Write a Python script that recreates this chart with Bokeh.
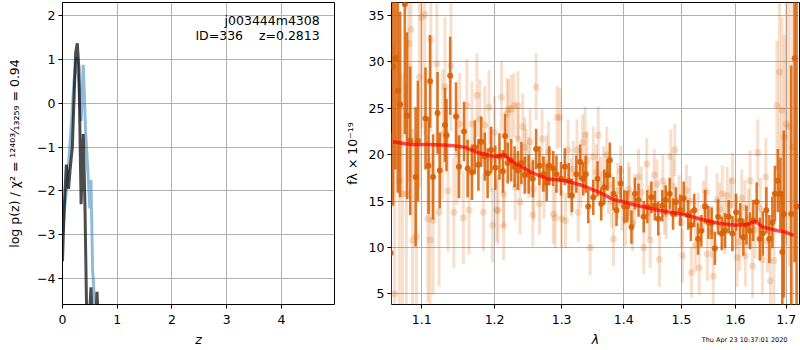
from bokeh.plotting import figure
from bokeh.models import FixedTicker, PrintfTickFormatter, Label, ColumnDataSource, Title
from bokeh.layouts import row
from bokeh.embed import file_html
from bokeh.resources import INLINE

FONT = "DejaVu Sans"
FS = "12.5px"

# ---- left panel: log p(z) curves ----
z_black = [0.0, 0.03, 0.07, 0.11, 0.14, 0.18, 0.24, 0.27, 0.30, 0.34, 0.38, 0.41,
           0.44, 0.47, 0.50, 0.52, 0.54, 0.60, 0.63, 0.65, 0.70]
lnp_black = [-3.6, -2.4, -1.4, -1.95, -1.5, -1.0, 1.15, 1.37, 0.8, -2.3, -0.7, -2.3,
             -4.7, -5.5, -4.7, -4.2, -4.8, -5.5, -4.3, -4.8, -6.0]
z_blue = [0.0, 0.04, 0.09, 0.15, 0.21, 0.26, 0.30, 0.34, 0.38, 0.42, 0.47, 0.50,
          0.52, 0.53, 0.55, 0.58, 0.62]
lnp_blue = [-3.0, -2.4, -1.75, -0.7, 0.5, 1.05, 0.5, -0.4, 0.88, -0.6, -1.7, -2.4,
            -1.75, -2.4, -3.8, -4.4, -5.5]
z_ticks = [0, 1, 2, 3, 4]
lnp_ticks = [-4, -3, -2, -1, 0, 1, 2]

# ---- right panel: spectrum ----
dark_wave = [1.060, 1.063, 1.066, 1.069, 1.072, 1.078, 1.081, 1.085, 1.092, 1.095,
             1.105, 1.109, 1.111, 1.115, 1.121, 1.124, 1.131, 1.133, 1.138, 1.146,
             1.150, 1.157, 1.162, 1.168, 1.172, 1.177, 1.181, 1.186, 1.190, 1.195,
             1.201, 1.207, 1.212, 1.215, 1.219, 1.224, 1.229, 1.234, 1.239, 1.244,
             1.250, 1.256, 1.261, 1.266, 1.272, 1.277, 1.281, 1.287, 1.292, 1.299,
             1.305, 1.311, 1.316, 1.323, 1.329, 1.334, 1.338, 1.342, 1.350, 1.357,
             1.363, 1.368, 1.373, 1.377, 1.383, 1.388, 1.395, 1.401, 1.406, 1.413,
             1.419, 1.425, 1.434, 1.440, 1.447, 1.453, 1.459, 1.466, 1.472, 1.479,
             1.485, 1.490, 1.498, 1.504, 1.512, 1.517, 1.523, 1.530, 1.536, 1.543,
             1.549, 1.555, 1.561, 1.567, 1.574, 1.580, 1.587, 1.594, 1.601, 1.609,
             1.615, 1.621, 1.628, 1.634, 1.641, 1.647, 1.653, 1.660, 1.666, 1.672,
             1.677, 1.683, 1.688, 1.692, 1.695, 1.710, 1.717, 1.721]
dark_flux = [9.4, 29.5, 30.4, 26.9, 25.4, 36.2, 24.2, 21.5, 17.6, 21.5,
             23.9, 18.8, 27.9, 17.6, 24.5, 18.3, 23.2, 22.1, 28.5, 24.1,
             18.7, 22.5, 18.5, 18.1, 20.8, 18.9, 21.4, 19.8, 18.0, 20.5,
             18.6, 19.8, 18.2, 22.0, 19.1, 19.4, 18.7, 18.3, 19.1, 17.8,
             17.9, 17.4, 20.6, 18.8, 17.9, 17.0, 18.8, 18.5, 17.9, 17.4,
             18.7, 17.2, 15.6, 17.9, 19.2, 17.4, 17.9, 14.4, 15.4, 17.4,
             14.7, 16.5, 17.8, 19.4, 15.8, 14.0, 16.9, 14.4, 14.4, 12.2,
             15.8, 15.1, 13.3, 14.4, 15.4, 14.5, 13.1, 14.5, 15.1, 15.8,
             13.6, 14.9, 14.0, 15.3, 13.5, 12.4, 14.0, 10.9, 11.8, 14.4,
             12.7, 12.6, 9.9, 13.3, 11.5, 11.8, 13.3, 11.5, 13.8, 12.9,
             11.1, 12.4, 11.8, 12.9, 14.9, 10.9, 11.5, 14.0, 10.9, 12.7,
             15.8, 17.2, 15.8, 9.5, 13.6, 13.6, 30.4, 14.4]
dark_err = [13, 15, 12, 11, 10, 14, 9, 8, 7.5, 6.5,
            5.5, 5.2, 5.0, 4.6, 4.4, 4.1, 4.0, 3.9, 4.2, 3.7,
            3.4, 3.2, 3.1, 3.0, 2.9, 2.8, 2.7, 2.6, 2.7, 2.5,
            2.4, 2.5, 2.3, 2.4, 2.2, 2.3, 2.2, 2.1, 2.3, 2.0,
            2.1, 2.0, 2.2, 2.1, 1.9, 2.0, 2.1, 1.9, 2.0, 1.8,
            2.0, 1.9, 1.8, 2.0, 1.9, 1.8, 2.0, 1.8, 1.9, 1.9,
            1.8, 1.9, 1.7, 1.9, 1.8, 1.7, 1.9, 1.8, 1.7, 1.8,
            1.7, 1.8, 1.7, 1.8, 1.7, 1.6, 1.8, 1.7, 1.6, 1.7,
            1.7, 1.6, 1.7, 1.8, 1.6, 1.7, 1.8, 1.7, 1.7, 1.8,
            1.8, 1.7, 1.8, 1.9, 1.8, 1.9, 1.8, 1.9, 2.0, 1.9,
            2.0, 2.1, 2.0, 2.2, 2.1, 2.3, 2.4, 2.5, 2.6, 2.8,
            3.0, 3.4, 3.9, 6.5, 9, 16, 22, 25]

light_wave = [1.062, 1.065, 1.071, 1.075, 1.080, 1.083, 1.086, 1.088, 1.093, 1.097,
              1.100, 1.104, 1.108, 1.111, 1.112, 1.115, 1.120, 1.123, 1.128, 1.131,
              1.135, 1.139, 1.143, 1.147, 1.151, 1.156, 1.161, 1.164, 1.168, 1.175,
              1.179, 1.184, 1.186, 1.192, 1.197, 1.200, 1.205, 1.210, 1.213, 1.218,
              1.224, 1.230, 1.234, 1.237, 1.241, 1.246, 1.252, 1.257, 1.261, 1.266,
              1.273, 1.280, 1.287, 1.293, 1.300, 1.310, 1.315, 1.324, 1.330, 1.337,
              1.345, 1.350, 1.358, 1.367, 1.375, 1.383, 1.390, 1.397, 1.403, 1.410,
              1.418, 1.425, 1.434, 1.439, 1.445, 1.452, 1.461, 1.467, 1.473, 1.481,
              1.488, 1.496, 1.502, 1.509, 1.518, 1.525, 1.532, 1.540, 1.547, 1.558,
              1.565, 1.575, 1.584, 1.594, 1.603, 1.612, 1.619, 1.628, 1.633, 1.643,
              1.652, 1.659, 1.668, 1.675, 1.681, 1.686, 1.691, 1.696, 1.700, 1.706,
              1.713,
              1.195, 1.203, 1.213, 1.220, 1.228, 1.234, 1.244, 1.250, 1.256, 1.270,
              1.277, 1.290, 1.297, 1.306, 1.318, 1.326, 1.333, 1.340, 1.355, 1.362,
              1.372, 1.380, 1.395, 1.408, 1.415, 1.430, 1.443, 1.457, 1.470, 1.485,
              1.500, 1.515, 1.530, 1.545, 1.555, 1.570, 1.580, 1.590, 1.600, 1.608,
              1.618, 1.625, 1.638, 1.648, 1.662]
light_flux = [31.3, 5.0, 17.2, 15.8, 15.8, 32.0, 33.5, 10.8, 11.2, 28.4,
              34.8, 35.1, 13.1, 10.8, 32.4, 12.9, 29.8, 13.8, 22.2, 27.3,
              16.1, 29.6, 13.8, 20.1, 23.3, 13.2, 25.3, 14.0, 23.3, 26.4,
              23.8, 13.8, 23.2, 25.1, 12.4, 22.4, 14.0, 26.2, 12.3, 24.4,
              24.9, 16.5, 25.3, 14.9, 23.0, 19.4, 21.4, 16.3, 27.3, 14.7,
              16.5, 20.3, 13.6, 24.0, 13.1, 20.5, 16.5, 20.5, 17.4, 22.1,
              10.0, 19.8, 22.1, 17.9, 16.7, 10.9, 16.1, 14.7, 13.1, 15.8,
              15.1, 17.6, 10.0, 19.0, 10.8, 17.8, 8.7, 17.2, 13.6, 19.8,
              20.5, 15.1, 9.1, 16.1, 7.3, 10.2, 7.8, 14.4, 9.3, 6.9,
              15.1, 15.8, 15.6, 17.2, 8.9, 15.3, 9.1, 17.2, 8.0, 20.2,
              8.7, 17.6, 6.4, 8.6, 25.3, 28.9, 24.8, 21.9, 23.3, 23.0,
              20.8,
              19.5, 14.0, 15.8, 24.9, 25.3, 21.7, 20.8, 18.6, 13.5, 21.7,
              19.0, 13.2, 24.0, 12.9, 18.4, 13.8, 21.3, 19.4, 18.1, 16.9,
              20.0, 15.0, 18.2, 16.3, 12.6, 15.9, 13.8, 16.8, 14.2, 16.6,
              12.7, 15.0, 13.0, 16.0, 11.7, 14.1, 12.3, 14.6, 12.8, 10.6,
              14.3, 13.1, 11.9, 14.2, 10.7]
light_err = [16, 20, 14, 13, 12, 15, 16, 12, 11, 12,
             12, 13, 9, 9, 10, 8, 9, 8, 7, 7.5,
             6.5, 7, 6, 5.5, 5.5, 5, 5, 4.8, 4.6, 4.5,
             4.3, 4.2, 4.2, 4.0, 4.0, 3.9, 3.8, 3.9, 3.7, 3.8,
             3.7, 3.6, 3.7, 3.5, 3.6, 3.4, 3.5, 3.4, 3.6, 3.3,
             3.4, 3.3, 3.2, 3.4, 3.2, 3.3, 3.1, 3.3, 3.2, 3.1,
             3.0, 3.2, 3.1, 3.0, 3.1, 2.9, 3.0, 2.9, 3.0, 2.9,
             2.8, 3.0, 2.9, 2.8, 3.0, 2.8, 2.9, 2.8, 2.7, 2.9,
             2.8, 2.7, 2.9, 2.8, 2.7, 2.8, 2.9, 2.8, 2.9, 3.0,
             2.9, 3.0, 3.1, 3.0, 3.2, 3.1, 3.3, 3.3, 3.5, 3.6,
             3.8, 4.2, 4.6, 5.5, 7, 9, 10, 11, 13, 15,
             17,
             3.5, 3.4, 3.6, 3.3, 3.5, 3.4, 3.2, 3.3, 3.4, 3.2,
             3.1, 3.3, 3.2, 3.0, 3.1, 3.2, 3.0, 3.1, 3.0, 2.9,
             3.0, 2.9, 2.8, 2.9, 3.0, 2.8, 2.9, 2.7, 2.8, 2.9,
             2.8, 2.7, 2.9, 2.8, 2.8, 2.9, 3.0, 2.9, 3.0, 3.1,
             3.0, 3.2, 3.1, 3.3, 3.4]

model_wave = [1.063, 1.085, 1.112, 1.139, 1.158, 1.177, 1.200, 1.214, 1.226, 1.254,
              1.278, 1.305, 1.332, 1.358, 1.385, 1.400, 1.425, 1.459, 1.500, 1.532,
              1.568, 1.600, 1.623, 1.639, 1.652, 1.683, 1.695, 1.715]
model_flux = [21.4, 21.1, 21.1, 21.0, 20.8, 20.2, 19.8, 20.0, 19.2, 18.1,
              17.4, 17.2, 16.7, 16.0, 15.1, 14.9, 14.5, 14.0, 13.6, 13.1,
              12.6, 12.4, 12.5, 12.8, 12.2, 11.8, 11.7, 11.3]
wave_ticks = [1.1, 1.2, 1.3, 1.4, 1.5, 1.6, 1.7]
flux_ticks = [5, 10, 15, 20, 25, 30, 35]

ORANGE = "#d95f02"
GRID = "#b0b0b0"


def style(p):
    p.outline_line_color = "black"
    p.outline_line_width = 1
    p.outline_line_alpha = 1
    for ax in (p.xaxis[0], p.yaxis[0]):
        ax.axis_line_color = None
        ax.major_tick_line_color = "black"
        ax.major_tick_out = 4
        ax.major_tick_in = 0
        ax.minor_tick_line_color = None
        ax.major_label_text_font = FONT
        ax.major_label_text_font_size = FS
        ax.major_label_text_color = "black"
        ax.axis_label_text_font = FONT
        ax.axis_label_text_font_size = FS
        ax.axis_label_text_color = "black"
    p.xaxis[0].major_label_standoff = 6
    p.xaxis[0].axis_label_standoff = 5
    p.yaxis[0].major_label_standoff = 3
    p.xaxis[0].axis_label_text_font_style = "italic"
    p.yaxis[0].axis_label_text_font_style = "normal"
    for g in (p.xgrid[0], p.ygrid[0]):
        g.grid_line_color = GRID
        g.grid_line_width = 1
    p.background_fill_color = "white"
    p.border_fill_color = "white"


# ---------- left figure ----------
p1 = figure(width=338, height=350, x_range=(0, 4.97), y_range=(-4.59, 2.3),
            output_backend="svg", toolbar_location=None,
            min_border_left=62, min_border_right=4, min_border_top=2, min_border_bottom=46)
p1.line(z_blue, lnp_blue, line_color="#1f77b4", line_alpha=0.5, line_width=3)
p1.line(z_black, lnp_black, line_color="black", line_alpha=0.7, line_width=3)
p1.xaxis.ticker = FixedTicker(ticks=z_ticks)
p1.yaxis.ticker = FixedTicker(ticks=lnp_ticks)
p1.xaxis.axis_label = "z"
p1.yaxis.axis_label = "log p(z) / χ² = ¹²⁴⁰³⁄₁₃₂₅₉ = 0.94"
style(p1)
p1.yaxis.axis_label_standoff = 12
p1.add_layout(Label(x=4.70, y=1.88, text="j003444m4308", text_align="right",
                    text_baseline="middle", text_font=FONT, text_font_size=FS,
                    text_color="black"))
p1.add_layout(Label(x=4.70, y=1.54, text="ID=336\u00a0\u00a0\u00a0\u00a0z=0.2813",
                    text_align="right", text_baseline="middle", text_font=FONT,
                    text_font_size=FS, text_color="black"))

# ---------- right figure ----------
p2 = figure(width=462, height=350, x_axis_type="log", x_range=(1.061, 1.727),
            y_range=(3.85, 36.4), output_backend="svg", toolbar_location=None,
            min_border_left=53, min_border_right=1, min_border_top=2, min_border_bottom=46)

light_src = ColumnDataSource(dict(
    x=light_wave, y=light_flux,
    lo=[f - e for f, e in zip(light_flux, light_err)],
    hi=[f + e for f, e in zip(light_flux, light_err)]))
dark_src = ColumnDataSource(dict(
    x=dark_wave, y=dark_flux,
    lo=[f - e for f, e in zip(dark_flux, dark_err)],
    hi=[f + e for f, e in zip(dark_flux, dark_err)]))

p2.segment(x0="x", y0="lo", x1="x", y1="hi", source=light_src, line_color=ORANGE,
           line_alpha=0.2, line_width=3)
p2.scatter(x="x", y="y", source=light_src, size=7, fill_color=ORANGE, fill_alpha=0.2,
           line_color=None)
p2.segment(x0="x", y0="lo", x1="x", y1="hi", source=dark_src, line_color=ORANGE,
           line_alpha=0.85, line_width=2.6)
p2.scatter(x="x", y="y", source=dark_src, size=6, fill_color=ORANGE, fill_alpha=0.9,
           line_color=None)
p2.line(model_wave, model_flux, line_color="red", line_alpha=0.7, line_width=3.5)

p2.xaxis.ticker = FixedTicker(ticks=wave_ticks)
p2.xaxis.formatter = PrintfTickFormatter(format="%.1f")
p2.yaxis.ticker = FixedTicker(ticks=flux_ticks)
p2.xaxis.axis_label = "λ"
p2.yaxis.axis_label = "fλ × 10⁻¹⁹"
style(p2)
p2.yaxis.axis_label_standoff = 6
p2.add_layout(Title(text="Thu Apr 23 10:37:01 2020", align="right", offset=12,
                    vertical_align="top", standoff=-28, text_font=FONT,
                    text_font_size="6.5px", text_font_style="normal",
                    text_color="black"), "below")

layout = row(p1, p2)
open("out.html", "w").write(file_html(layout, INLINE))
